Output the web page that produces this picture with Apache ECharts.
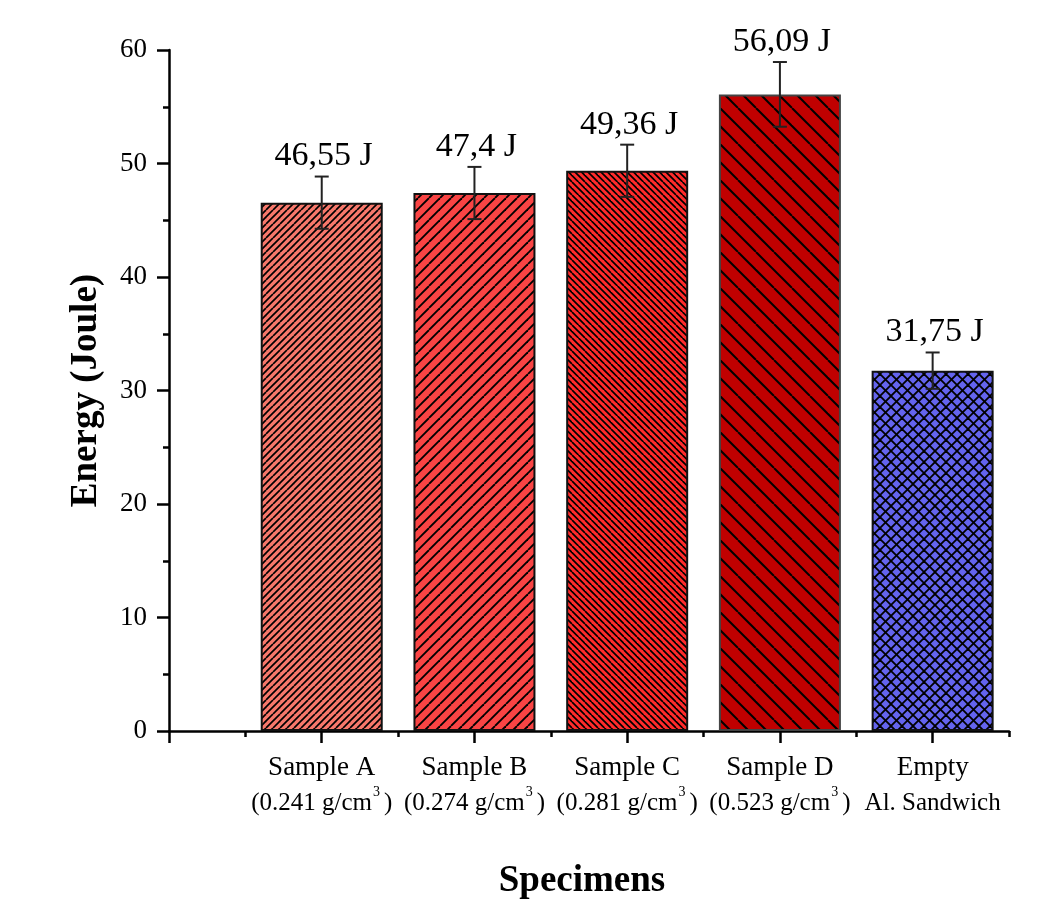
<!DOCTYPE html>
<html><head><meta charset="utf-8">
<script src="https://cdn.jsdelivr.net/npm/echarts@6/dist/echarts.min.js"></script>
<style>html,body{margin:0;padding:0;background:#fff}#c{width:1051px;height:905px}</style>
</head><body><div id="c"></div>
<script>
// ---- data ----
const labelTop = ['Sample A', 'Sample B', 'Sample C', 'Sample D', 'Empty'];
const labelBottom = ['(0.241 g/cm³)', '(0.274 g/cm³)', '(0.281 g/cm³)', '(0.523 g/cm³)', 'Al. Sandwich'];
const energy = [46.55, 47.4, 49.36, 56.09, 31.75];
const errors = [2.3, 2.3, 2.3, 2.85, 1.6];
const yTicks = [0, 10, 20, 30, 40, 50, 60];

// ---- styles ----
const barColors = ['#F7786B', '#F94444', '#FF2B2B', '#C00000', '#6464EE'];
const hatchDefs = [
  {s: 7, dirs: ['/'], lw: 1.7},
  {s: 11, dirs: ['/'], lw: 1.9},
  {s: 6.5, dirs: ['\\'], lw: 1.7},
  {s: 18, dirs: ['\\'], lw: 2},
  {s: 11, dirs: ['/', '\\'], lw: 1.8}
];
const FONT = '"Liberation Serif", "Times New Roman", serif';

function hatch(bg, def) {
  const s = def.s;
  const size = Math.round(s * 2);
  const c = document.createElement('canvas');
  c.width = size; c.height = size;
  const g = c.getContext('2d');
  g.fillStyle = bg; g.fillRect(0, 0, size, size);
  g.strokeStyle = '#000'; g.lineWidth = def.lw;
  def.dirs.forEach(d => {
    for (let k = -size; k <= size; k += size / 2) {
      g.beginPath();
      if (d === '/') { g.moveTo(k, size); g.lineTo(k + size, 0); }
      else { g.moveTo(k, 0); g.lineTo(k + size, size); }
      g.stroke();
    }
  });
  return {image: c, repeat: 'repeat'};
}

const barData = energy.map((v, i) => ({
  value: [i + 1, v],
  itemStyle: {color: hatch(barColors[i], hatchDefs[i]), borderColor: i === 3 ? '#444' : '#111', borderWidth: 2}
}));
const errData = energy.map((v, i) => [i + 1, v, errors[i]]);

function fmtVal(v) { return String(v).replace('.', ',') + ' J'; }

const chart = echarts.init(document.getElementById('c'), null, {renderer: 'canvas'});
chart.setOption({
  backgroundColor: '#fff',
  animation: false,
  grid: {left: 169, right: 42, top: 50, bottom: 173, containLabel: false},
  xAxis: [{
    type: 'value', min: 0, max: 5.5, interval: 0.5,
    position: 'bottom',
    axisLine: {show: true, onZero: false, lineStyle: {color: '#000', width: 2.5}},
    axisTick: {show: true, inside: false, length: 6, lineStyle: {color: '#000', width: 2.5}},
    splitLine: {show: false},
    axisLabel: {
      margin: 20,
      color: '#000',
      fontFamily: FONT,
      formatter: function (v) {
        const i = Math.round(v) - 1;
        if (Math.abs(v - Math.round(v)) > 1e-6 || i < 0 || i >= labelTop.length) return '';
        const b = labelBottom[i];
        let second;
        if (b.indexOf('³') >= 0) {
          const parts = b.split('³');
          second = '{b|' + parts[0] + '}{s|3}{b|' + parts[1] + '}';
        } else {
          second = '{c|' + b + '}';
        }
        return '{a|' + labelTop[i] + '}\n' + second;
      },
      rich: {
        a: {fontSize: 27, fontFamily: FONT, color: '#000', lineHeight: 34},
        b: {fontSize: 25, fontFamily: FONT, color: '#000', lineHeight: 36},
        c: {fontSize: 25, fontFamily: FONT, color: '#000', lineHeight: 36},
        s: {fontSize: 14, fontFamily: FONT, color: '#000', lineHeight: 36, verticalAlign: 'top', padding: [0, 4, 0, 1]}
      }
    },
    name: 'Specimens',
    nameLocation: 'middle',
    nameGap: 132,
    nameTextStyle: {fontFamily: FONT, fontWeight: 'bold', fontSize: 37, color: '#000', padding: [0, 14, 0, 0]}
  }, {
    type: 'value', min: 0, max: 5.5, interval: 0.5,
    position: 'bottom',
    axisLine: {show: false, onZero: false},
    axisTick: {show: true, inside: false, length: 12, customValues: [0, 1, 2, 3, 4, 5], lineStyle: {color: '#000', width: 2.5}},
    axisLabel: {show: false},
    splitLine: {show: false}
  }],
  yAxis: {
    type: 'value', min: yTicks[0], max: yTicks[yTicks.length - 1], interval: 10,
    axisLine: {show: true, lineStyle: {color: '#000', width: 2.5}},
    axisTick: {show: true, inside: false, length: 12, lineStyle: {color: '#000', width: 2.5}},
    minorTick: {show: true, splitNumber: 2, length: 6, lineStyle: {color: '#000', width: 2.5}},
    splitLine: {show: false},
    axisLabel: {margin: 22, color: '#000', fontFamily: FONT, fontSize: 27},
    name: 'Energy (Joule)',
    nameLocation: 'middle',
    nameGap: 64,
    nameTextStyle: {fontFamily: FONT, fontWeight: 'bold', fontSize: 37, color: '#000'}
  },
  series: [{
    type: 'bar',
    xAxisIndex: 0,
    barWidth: 122,
    data: barData,
    z: 2
  }, {
    type: 'custom',
    xAxisIndex: 0,
    data: errData,
    z: 5,
    renderItem: function (params, api) {
      const x = api.value(0), v = api.value(1), e = api.value(2);
      const top = api.coord([x, v + e]);
      const bot = api.coord([x, v - e]);
      const hw = 7;
      const st = {stroke: '#222', lineWidth: 2};
      return {
        type: 'group',
        children: [
          {type: 'line', shape: {x1: top[0], y1: top[1], x2: bot[0], y2: bot[1]}, style: st},
          {type: 'line', shape: {x1: top[0] - hw, y1: top[1], x2: top[0] + hw, y2: top[1]}, style: st},
          {type: 'line', shape: {x1: bot[0] - hw, y1: bot[1], x2: bot[0] + hw, y2: bot[1]}, style: st},
          {type: 'text', x: top[0] + 2, y: top[1] - 3,
           style: {text: fmtVal(v), fill: '#000', font: '34px ' + FONT, align: 'center', verticalAlign: 'bottom'}}
        ]
      };
    }
  }]
});
</script>
</body></html>
